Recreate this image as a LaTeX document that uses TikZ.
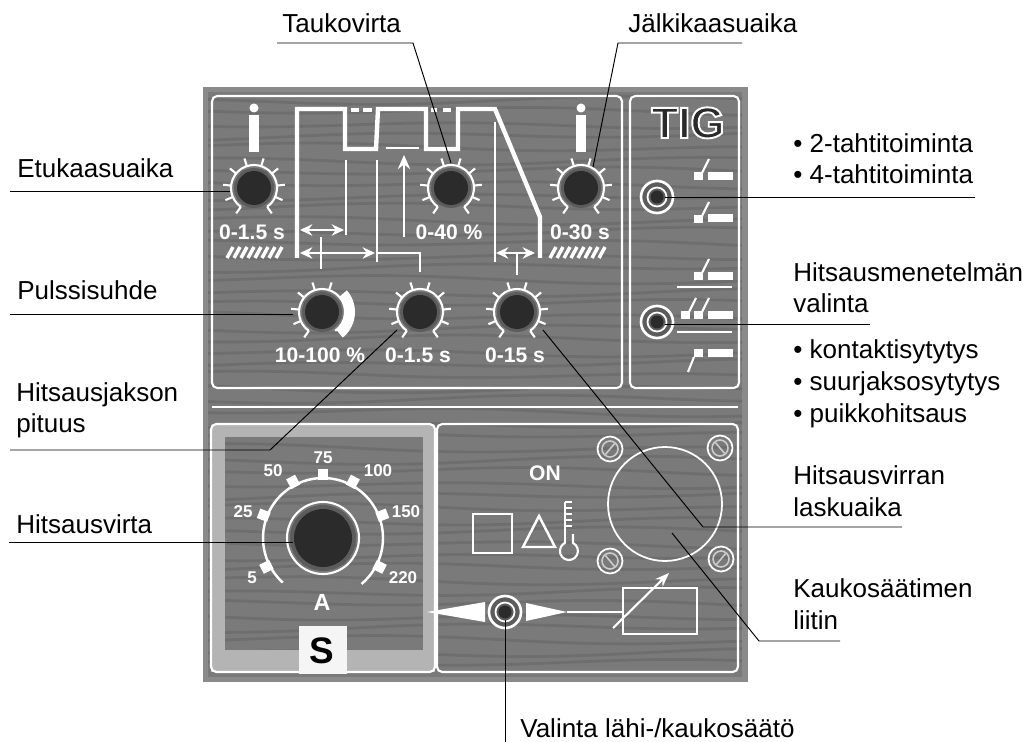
\documentclass[tikz,border=0pt]{standalone}
\usepackage{fontspec}
\usetikzlibrary{arrows.meta}
\setmainfont{Liberation Sans}
\definecolor{panelgrey}{HTML}{7A7A7A}
\definecolor{graingrey}{HTML}{6E6E6E}
\definecolor{edgegrey}{HTML}{8A8A8A}
\definecolor{framegrey}{HTML}{B4B4B4}
\definecolor{ringgrey}{HTML}{5C5C5C}
\definecolor{knobblack}{HTML}{2B2B2B}

\begin{document}
\begin{tikzpicture}[
    x=0.02cm, y=-0.02cm,
    lab/.style={font=\fontsize{14.8}{18.2}\selectfont, text=black, anchor=base west, align=left, inner sep=0pt},
    val/.style={font=\fontsize{12}{14}\selectfont\bfseries, text=white, anchor=base, inner sep=0pt},
    scl/.style={font=\fontsize{9.7}{12}\selectfont\bfseries, text=white, anchor=base, inner sep=0pt},
    wht/.style={white, line width=1.2pt},
    fat/.style={white, line width=2.5pt},
    tip/.style={{Stealth[length=7pt,width=6.5pt]}-{Stealth[length=7pt,width=6.5pt]}},
    lead/.style={black, line width=0.55pt},
    grain/.style={graingrey, line width=1.6pt},
]
\useasboundingbox (0,0) rectangle (1033,742);

% panel and its frames
\fill[edgegrey] (203,87) rectangle (748,682);
\fill[panelgrey] (208,92) rectangle (742,677);
\begin{scope}
    \clip (208,92) rectangle (742,677);
    \foreach \gy in {100,112,...,670}{
        \draw[grain] plot[domain=208:742, samples=45, smooth]
            (\x, {\gy + 3*sin(\x*0.8 + \gy*5) + 2*sin(\x*0.3 + \gy*11)});
    }
\end{scope}
\draw[wht, rounded corners=3pt] (212,96) rectangle (622,388);
\draw[wht, rounded corners=3pt] (630,96) rectangle (739,388);
\draw[white, line width=1.4pt] (212,407) -- (738,407);
\fill[framegrey, rounded corners=3pt] (211,424) rectangle (435,437);
\fill[framegrey] (211,430) rectangle (225,672);
\fill[framegrey] (423,430) rectangle (435,672);
\fill[framegrey] (211,650) rectangle (435,672);
\draw[wht, rounded corners=3pt] (211,424) rectangle (435,672);
\draw[wht, rounded corners=3pt] (437,424) rectangle (738,672);

% pulse shape
\draw[fat, line join=miter] (297,258) -- (297,109) -- (345,109) -- (345,149) -- (376,149)
    -- (378,109) -- (426,109) -- (426,149) -- (458,149) -- (458,109) -- (495,109)
    -- (540,217) -- (540,258);
\foreach \xa/\xb in {351/359, 363/372, 431/437, 443/451}{
    \draw[white, line width=1.8pt] (\xa,110) -- (\xb,110);
}
\draw[wht] (386,148) -- (419,148);
\draw[wht] (346,160) -- (346,235);
\draw[wht] (377,160) -- (377,262);
\draw[wht] (495,122) -- (495,262);
\draw[wht, -{Stealth[length=8pt,width=7pt]}] (404,237) -- (404,155);
\draw[wht, tip] (300,230) -- (344,230);
\draw[wht, tip] (300,253) -- (375,253);
\draw[wht, tip] (496,253) -- (535,253);
\draw[wht] (321,237) -- (321,269);
\draw[wht] (378,253) -- (420,253) -- (420,272);
\draw[wht] (517,253) -- (517,275);

% i marks and hatch bars
\foreach \ix in {254,581}{
    \fill[white] (\ix-5,115) rectangle (\ix+5,152);
    \fill[white] (\ix,108) circle (4.5);
}
\foreach \hx in {227,550}{
    \foreach \i in {0,...,7}{
        \draw[white, line width=2pt] (\hx+\i*7,258) -- (\hx+\i*7+6,247);
    }
}

% small knobs
\foreach \kx/\ky in {254/188, 451/188, 581/188, 322/312, 420/312, 517/312}{
    \fill[ringgrey] (\kx,\ky) circle (20);
    \fill[knobblack] (\kx,\ky) circle (17);
    \draw[wht] (\kx,\ky) ++(-235:23) arc[start angle=-235, end angle=55, radius=23];
    \foreach \a in {-72,-108,-141,-174,-203,-235}{
        \draw[wht] (\kx,\ky) ++(\a:23) -- ++(\a:8);
    }
}
\foreach \kx/\ky in {254/188, 451/188, 581/188, 420/312, 517/312}{
    \foreach \a in {-39,-6,23,55}{
        \draw[wht] (\kx,\ky) ++(\a:23) -- ++(\a:8);
    }
}
\fill[white] (322,312) ++(-41:33) arc[start angle=-41, end angle=51, radius=33]
    -- ++(51:-10) arc[start angle=51, end angle=-41, radius=23] -- cycle;

\node[val] (valA) at (252,240) {0-1.5 s};
\node[val] (valB) at (449,240) {0-40 \%};
\node[val] (valC) at (580,240) {0-30 s};
\node[val] (valD) at (320,363) {10-100 \%};
\node[val] (valE) at (418,363) {0-1.5 s};
\node[val] (valF) at (515,363) {0-15 s};

% mode selectors and torch marks
\node[font=\fontsize{25}{27}\selectfont\bfseries, text=knobblack, anchor=base, inner sep=0pt] (tig) at (688,138)
    {\special{pdf:code q 1 1 1 RG 1.1 w 2 Tr}TIG\special{pdf:code Q}};
\foreach \sx/\sy in {657/197, 657/322, 505/612}{
    \fill[ringgrey] (\sx,\sy) circle (16);
    \draw[white, line width=1.5pt] (\sx,\sy) circle (16);
    \draw[white, line width=1pt] (\sx,\sy) circle (9.5);
    \fill[knobblack] (\sx,\sy) circle (6.5);
}
\foreach \sx/\sy in {694/172, 694/215, 694/272, 694/311, 681/311}{
    \fill[white] (\sx,\sy) rectangle +(9,8);
    \draw[wht] (\sx+8,\sy+1) -- +(7,-14);
}
\foreach \sy in {172, 214, 272, 311, 349}{
    \fill[white] (708,\sy) rectangle +(25,8);
}
\fill[white] (694,349) rectangle +(9,8);
\draw[wht] (694,357) -- (688,372);
\draw[wht] (677,287) -- (732,287);
\draw[wht] (677,332) -- (732,332);

% current dial
\fill[ringgrey] (323,538) circle (33);
\fill[knobblack] (323,538) circle (29);
\draw[wht] (323,538) circle (36);
\draw[white, line width=1.4pt] (323,538) ++(-228:60) arc[start angle=-228, end angle=50, radius=60];
\foreach \a in {-207,-159,-118,-90,-62,-21,27}{
    \draw[white, line width=5.7pt] (323,538) ++(\a:58) -- ++(\a:11);
}
\node[scl] (sclA) at (252,583) {5};
\node[scl] (sclB) at (243,517) {25};
\node[scl] (sclC) at (273,476) {50};
\node[scl] (sclD) at (323,463) {75};
\node[scl] (sclE) at (378,476) {100};
\node[scl] (sclF) at (406,517) {150};
\node[scl] (sclG) at (403,583) {220};
\node[val, font=\fontsize{13.3}{15}\selectfont\bfseries] (unit) at (322,610) {A};
\fill[white!96!black] (299,626) rectangle (347,674);
\node[val, font=\fontsize{21}{23}\selectfont\bfseries, text=black] (mark) at (322,663) {S};

% signal lamps
\node[val] (on) at (545,480) {ON};
\draw[white, line width=1.4pt] (473,514) rectangle (512,553);
\draw[white, line width=1.4pt, line join=miter] (539,516) -- (555,547) -- (523,547) -- cycle;
\draw[wht] (565,502) -- (565,541);
\draw[wht] (573,534) -- (573,543) arc[start angle=-63, end angle=243, radius=9] -- (565,541);
\foreach \ty in {502,508,514,520,526}{
    \draw[white, line width=0.9pt] (565,\ty) -- (572,\ty);
}

% socket and screws
\draw[white, line width=1pt] (665,504) circle (57);
\foreach \sx/\sy/\a in {610/449/-50, 720/448/50, 610/561/50, 721/559/-50}{
    \draw[white, line width=1pt] (\sx,\sy) circle (12.5);
    \draw[white!80!black, line width=0.9pt] (\sx,\sy) circle (8);
    \draw[white!80!black, line width=0.9pt] (\sx,\sy) ++(\a:7) -- ++(\a:-14);
}

% remote link
\fill[white] (427,612) -- (485,602) -- (485,622) -- cycle;
\fill[white] (526,603) -- (567,612) -- (526,621) -- cycle;
\draw[wht] (567,612) -- (623,612);
\draw[white, line width=1.4pt] (623,588) rectangle (697,634);
\draw[wht, -{Stealth[length=8pt,width=6pt]}] (613,628) -- (669,573);

% labels
\node[lab] (etuka) at (17,178) {Etukaasuaika};
\node[lab] (pulssi) at (17,300) {Pulssisuhde};
\node[lab] (jakso) at (16,433) {Hitsausjakson\\pituus};
\node[lab] (virta) at (16,533) {Hitsausvirta};
\node[lab] (tauko) at (282,33) {Taukovirta};
\node[lab] (jalki) at (628,33) {Jälkikaasuaika};
\node[lab] (tahti) at (793,184) {• 2-tahtitoiminta\\• 4-tahtitoiminta};
\node[lab] (menet) at (793,313) {Hitsausmenetelmän\\valinta};
\node[lab] (syty) at (793,422) {• kontaktisytytys\\• suurjaksosytytys\\• puikkohitsaus};
\node[lab] (lasku) at (793,516) {Hitsausvirran\\laskuaika};
\node[lab] (liitin) at (793,629) {Kaukosäätimen\\liitin};
\node[lab] (lahi) at (520,737) {Valinta lähi-/kaukosäätö};

% leader lines
\coordinate (etukaL) at (10,191);     \coordinate (etukaK) at (230,191);
\coordinate (pulssiL) at (10,314);    \coordinate (pulssiK) at (293,314);
\coordinate (jaksoL) at (10,450);     \coordinate (jaksoB) at (270,450);  \coordinate (jaksoK) at (397,330);
\coordinate (virtaL) at (9,542);      \coordinate (virtaK) at (293,542);
\coordinate (taukoL) at (277,43);     \coordinate (taukoB) at (413,43);   \coordinate (taukoK) at (451,163);
\coordinate (jalkiR) at (742,43);     \coordinate (jalkiB) at (618,43);   \coordinate (jalkiK) at (593,167);
\coordinate (tahtiR) at (975,197);    \coordinate (tahtiK) at (665,197);
\coordinate (menetR) at (870,324);    \coordinate (menetK) at (665,324);
\coordinate (laskuR) at (902,527);    \coordinate (laskuB) at (703,527);  \coordinate (laskuK) at (543,330);
\coordinate (liitinR) at (840,641);   \coordinate (liitinB) at (759,641); \coordinate (liitinK) at (672,533);
\coordinate (lahiS) at (505,742);     \coordinate (lahiK) at (505,620);
\draw[lead] (etukaL) -- (etukaK);
\draw[lead] (pulssiL) -- (pulssiK);
\draw[lead] (jaksoL) -- (jaksoB) -- (jaksoK);
\draw[lead] (virtaL) -- (virtaK);
\draw[lead] (taukoL) -- (taukoB) -- (taukoK);
\draw[lead] (jalkiR) -- (jalkiB) -- (jalkiK);
\draw[lead] (tahtiR) -- (tahtiK);
\draw[lead] (menetR) -- (menetK);
\draw[lead] (laskuR) -- (laskuB) -- (laskuK);
\draw[lead] (liitinR) -- (liitinB) -- (liitinK);
\draw[lead] (lahiS) -- (lahiK);
\end{tikzpicture}
\end{document}
